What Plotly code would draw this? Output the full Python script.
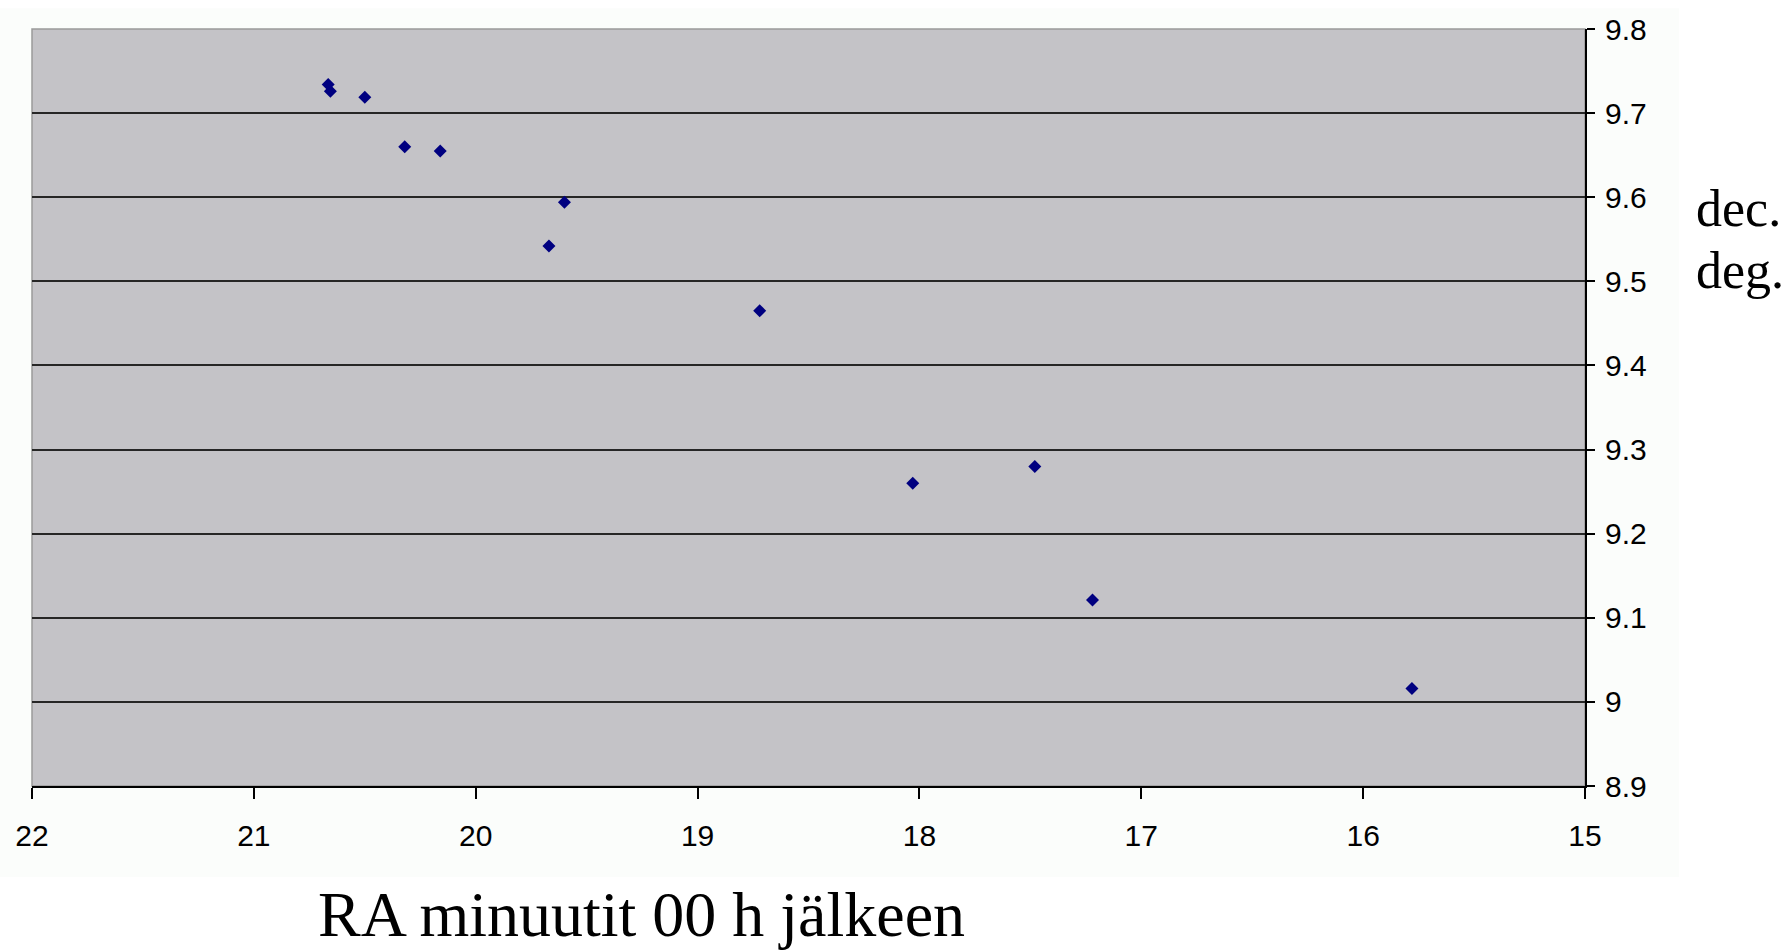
import plotly.graph_objects as go

# Data
ra_minutes = [20.665, 20.655, 20.50, 20.32, 20.16, 19.60, 19.67, 18.72, 18.03, 17.48, 17.22, 15.78]
dec_degrees = [9.734, 9.726, 9.719, 9.660, 9.655, 9.594, 9.542, 9.465, 9.260, 9.280, 9.121, 9.016]

x_ticks = [22, 21, 20, 19, 18, 17, 16, 15]
y_ticks = [9.8, 9.7, 9.6, 9.5, 9.4, 9.3, 9.2, 9.1, 9.0, 8.9]
y_tick_labels = ["9.8", "9.7", "9.6", "9.5", "9.4", "9.3", "9.2", "9.1", "9", "8.9"]

W, H = 1792, 950
L, R, T, B = 32, 1585, 21, 786
pw, ph = R - L, B - T

def px(xp):
    return (xp - L) / pw

def py(yp):
    return (B - yp) / ph

fig = go.Figure()
fig.add_trace(go.Scatter(
    x=ra_minutes, y=dec_degrees, mode="markers",
    marker=dict(symbol="diamond", size=10, color="#000080", line=dict(width=0)),
    showlegend=False,
))

serif = dict(family="Liberation Serif, Times New Roman, serif", size=52, color="black")

fig.update_layout(
    width=W, height=H,
    margin=dict(l=L, r=W - R, t=T, b=H - B),
    paper_bgcolor="white",
    plot_bgcolor="rgba(0,0,0,0)",
    font=dict(family="Liberation Sans, Arial, sans-serif", size=30, color="black"),
    shapes=[
        dict(type="rect", xref="paper", yref="paper", layer="below",
             x0=px(0), x1=px(1679), y0=py(878), y1=py(0),
             fillcolor="#FBFDFB", line=dict(width=0)),
        dict(type="rect", xref="paper", yref="paper", layer="below",
             x0=0, x1=1, y0=0, y1=1,
             fillcolor="#C4C3C7", line=dict(color="#9A9A9A", width=1.5)),
    ],
    annotations=[
        dict(text="RA minuutit 00 h jälkeen", xref="paper", yref="paper",
             x=px(641), y=py(878), xanchor="center", yanchor="top",
             showarrow=False,
             font=dict(family="Liberation Serif, Times New Roman, serif", size=64, color="black")),
        dict(text="dec.", xref="paper", yref="paper",
             x=px(1694), y=py(202), xanchor="left", yanchor="middle",
             showarrow=False, font=serif),
        dict(text="deg.", xref="paper", yref="paper",
             x=px(1694), y=py(265), xanchor="left", yanchor="middle",
             showarrow=False, font=serif),
    ],
)

fig.update_xaxes(
    range=[22, 15], tickvals=x_ticks, ticktext=[str(v) for v in x_ticks],
    showgrid=False, zeroline=False,
    showline=True, linecolor="black", linewidth=2,
    ticks="outside", ticklen=11, tickwidth=1.5, tickcolor="black",
    ticklabelstandoff=11, ticklabeloverflow="allow",
)
fig.update_yaxes(
    range=[8.9, 9.8], side="right", tickvals=y_ticks, ticktext=y_tick_labels,
    showgrid=True, gridcolor="#262626", gridwidth=2, zeroline=False,
    showline=True, linecolor="black", linewidth=2,
    ticks="outside", ticklen=8, tickwidth=1.5, tickcolor="black",
    ticklabelstandoff=4, ticklabeloverflow="allow",
)

fig.write_html(
    "out.html",
    config={"displayModeBar": False},
    post_script="document.body.style.margin='0';document.body.style.overflow='hidden';",
)
